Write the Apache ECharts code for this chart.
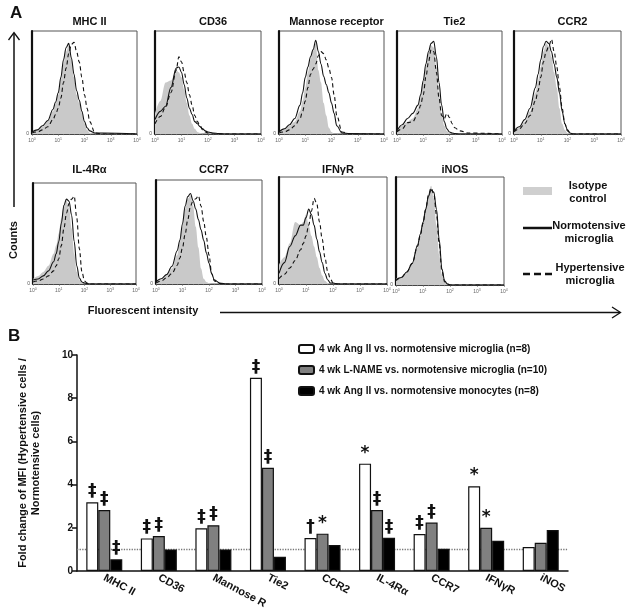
<!DOCTYPE html>
<html><head><meta charset="utf-8">
<script src="https://cdn.jsdelivr.net/npm/echarts@6/dist/echarts.min.js"></script>
<style>html,body{margin:0;padding:0;background:#fff}#c{width:631px;height:616px}</style>
</head><body><div id="c"></div><script>
// ---------- Panel A data (log10 fluorescence grid, % of max counts) ----------
var G = [0,0.2,0.4,0.6,0.8,0.9,1.0,1.1,1.2,1.3,1.4,1.5,1.6,1.7,1.8,1.9,2.0,2.1,2.2,2.4,2.7,4];
var panelNames = ['MHC II','CD36','Mannose receptor','Tie2','CCR2','IL-4R\u03b1','CCR7','IFN\u03b3R','iNOS'];
var xTickExponents = [0,1,2,3,4];

var mhc2Iso   = [2,4,7,12,22,29,38,52,68,80,86,72,55,38,30,20,10,4,1,0,0,0];
var mhc2Norm  = [2,4,8,13,24,31,40,55,72,84,88,74,58,42,33,22,12,6,3,1,1,0];
var mhc2Hyper = [1,2,4,7,14,19,25,35,50,64,78,87,89,80,70,55,38,25,12,1,0,0];

var cd36Iso   = [20,32,50,52,62,60,55,43,30,18,10,5,2,1,0,0,0,0,0,0,0,0];
var cd36Norm  = [14,22,27,45,64,65,60,48,35,25,19,12,10,7,5,3,2,1.5,1,0.5,0,0];
var cd36Hyper = [10,17,26,40,62,75,70,60,50,38,28,18,12,8,4,2,1,0,0,0,0,0];

var mrIso   = [2,4,8,12,22,32,45,60,72,82,88,62,50,30,18,6,2,0,0,0,0,0];
var mrNorm  = [2,5,9,15,28,40,55,65,75,82,91,80,68,56,48,40,30,20,8,1,0.5,0];
var mrHyper = [1,2,4,8,15,22,32,45,58,63,68,76,80,78,72,64,55,38,18,2,0,0];

var tie2Iso   = [3,8,12,15,25,35,50,65,78,86,84,65,40,20,8,3,1,0,0,0,0,0];
var tie2Norm  = [3,9,15,20,28,38,52,68,80,88,90,75,50,28,12,5,2,1,0.5,0,0,0];
var tie2Hyper = [2,5,11,12,20,28,38,55,70,82,80,60,35,18,15,20,16,10,6,3,1,0];

var ccr2Iso   = [3,6,12,22,40,52,65,80,88,85,75,60,45,25,10,4,1,0,0,0,0,0];
var ccr2Norm  = [3,7,14,25,45,58,72,85,90,88,80,68,55,40,22,10,4,1,0,0,0,0];
var ccr2Hyper = [2,5,10,18,32,42,55,70,80,85,92,80,65,45,25,10,3,1,0,0,0,0];

var il4Iso   = [5,8,12,18,30,38,50,65,78,83,75,55,30,12,4,1,0,0,0,0,0,0];
var il4Norm  = [4,5,8,13,22,30,42,60,78,84,82,68,42,18,6,2,1,0.5,0,0,0,0];
var il4Hyper = [2,3,5,8,13,18,25,38,55,70,80,84,87,65,35,12,3,1,0,0,0,0];

var ccr7Iso   = [2,4,8,15,28,40,55,72,82,85,75,55,35,15,5,2,1,0,0,0,0,0];
var ccr7Norm  = [2,5,9,17,32,42,58,75,84,87,80,72,62,52,42,30,20,10,4,1,0,0];
var ccr7Hyper = [1,3,6,10,18,25,35,48,62,75,80,82,85,75,60,45,28,10,3,0.5,0,0];

var ifngIso   = [18,25,38,58,55,58,65,55,45,35,25,15,8,3,1,0,0,0,0,0,0,0];
var ifngNorm  = [10,20,35,45,55,55,62,70,65,55,42,30,20,10,4,1,1,0.5,0,0,0,0];
var ifngHyper = [5,9,15,22,32,38,45,55,68,80,75,58,42,25,12,5,1,0,0,0,0,0];

var inosIso   = [6,7,12,20,35,45,58,72,85,92,80,55,28,10,3,1,0,0,0,0,0,0];
var inosNorm  = [5,7,12,20,37,47,58,70,82,88,86,70,42,15,4,1,0,0,0,0,0,0];
var inosHyper = [4,7,12,20,36,46,57,70,83,90,84,65,38,13,3,1,0,0,0,0,0,0];

// ---------- Panel B data ----------
var categories = ['MHC II','CD36','Mannose R','Tie2','CCR2','IL-4R\u03b1','CCR7','IFN\u03b3R','iNOS'];
var seriesNames = ['4 wk Ang II vs. normotensive microglia (n=8)',
                   '4 wk L-NAME vs. normotensive microglia (n=10)',
                   '4 wk Ang II vs. normotensive monocytes (n=8)'];
var angMicroglia   = [3.18,1.51,1.98,8.95,1.53,4.97,1.71,3.92,1.11];
var lnameMicroglia = [2.82,1.62,2.12,4.78,1.73,2.82,2.24,2.00,1.31];
var angMonocytes   = [0.54,1.00,1.00,0.66,1.20,1.54,1.03,1.40,1.90];
var sigAng   = ['\u2021','\u2021','\u2021','\u2021','\u2020','*','\u2021','*',''];
var sigLname = ['\u2021','\u2021','\u2021','\u2021','*','\u2021','\u2021','*',''];
var sigMono  = ['\u2021','','','','','\u2021','','',''];
var referenceLine = 1;
var yTicksB = [0,2,4,6,8,10];

var panelData = [
  [mhc2Iso,mhc2Norm,mhc2Hyper],[cd36Iso,cd36Norm,cd36Hyper],[mrIso,mrNorm,mrHyper],
  [tie2Iso,tie2Norm,tie2Hyper],[ccr2Iso,ccr2Norm,ccr2Hyper],[il4Iso,il4Norm,il4Hyper],
  [ccr7Iso,ccr7Norm,ccr7Hyper],[ifngIso,ifngNorm,ifngHyper],[inosIso,inosNorm,inosHyper]
];

// ---------- layout ----------
var FONT = '"Liberation Sans", Arial, sans-serif';
var boxes = [
  {l:32,t:31,w:105,h:103},{l:155,t:31,w:106,h:103},{l:279,t:31,w:105,h:103},
  {l:397,t:31,w:105,h:103},{l:514,t:31,w:107,h:103},
  {l:33,t:183,w:103,h:101},{l:156,t:180,w:106,h:104},{l:279,t:177,w:108,h:107},
  {l:396,t:177,w:108,h:108}
];
var titleY = [11,11,11,11,11,159,159,159,159];

var grids=[], xAxes=[], yAxes=[], series=[], titles=[];
boxes.forEach(function(b,i){
  grids.push({left:b.l, top:b.t, width:b.w, height:b.h, show:true, borderColor:'#555', borderWidth:1, backgroundColor:'#fff'});
  xAxes.push({gridIndex:i, type:'value', min:xTickExponents[0], max:xTickExponents[xTickExponents.length-1], interval:1,
    axisLine:{show:true, lineStyle:{color:'#444', width:1}},
    axisTick:{show:true, length:2, lineStyle:{color:'#666', width:0.6}},
    minorTick:{show:true, splitNumber:5, length:1.2, lineStyle:{color:'#888', width:0.5}},
    splitLine:{show:false},
    axisLabel:{margin:3, formatter:function(v){return '{b|10}{s|'+v+'}';},
      rich:{b:{fontSize:5, color:'#666', fontFamily:FONT}, s:{fontSize:3.5, color:'#666', fontFamily:FONT, verticalAlign:'bottom', padding:[0,0,3,0]}}}
  });
  yAxes.push({gridIndex:i, type:'value', min:0, max:100, interval:100,
    axisLine:{show:true, lineStyle:{color:'#111', width:2.2}},
    axisTick:{show:false}, splitLine:{show:false},
    axisLabel:{margin:3, fontSize:5, color:'#555', fontFamily:FONT, formatter:function(v){return v===0?'0':'';}}
  });
  var d = panelData[i];
  function pts(arr){ return G.map(function(g,k){return [g, arr[k]];}); }
  series.push({type:'line', xAxisIndex:i, yAxisIndex:i, data:pts(d[0]), smooth:0.35, smoothMonotone:'x', showSymbol:false, silent:true,
    lineStyle:{width:0}, areaStyle:{color:'#c9c9c9', opacity:1}, z:2});
  series.push({type:'line', xAxisIndex:i, yAxisIndex:i, data:pts(d[1]), smooth:0.35, smoothMonotone:'x', showSymbol:false, silent:true,
    lineStyle:{width:1.1, color:'#111'}, z:3});
  series.push({type:'line', xAxisIndex:i, yAxisIndex:i, data:pts(d[2]), smooth:0.35, smoothMonotone:'x', showSymbol:false, silent:true,
    lineStyle:{width:1.1, color:'#111', type:[4,3]}, z:4});
  titles.push({text:panelNames[i], left:b.l+b.w/2, top:titleY[i], textAlign:'center',
    textStyle:{fontSize:11, fontWeight:'bold', color:'#111', fontFamily:FONT}});
});

// Panel B grid
var gB = boxes.length;
grids.push({left:77, top:355, width:491, height:216});
xAxes.push({gridIndex:gB, type:'category', data:categories,
  axisLine:{lineStyle:{color:'#111', width:1.5}}, axisTick:{show:false},
  axisLabel:{rotate:-28, margin:6, fontSize:11, fontWeight:'bold', color:'#111', fontFamily:FONT, interval:0}
});
yAxes.push({gridIndex:gB, type:'value', min:yTicksB[0], max:yTicksB[yTicksB.length-1], interval:2,
  name:'Fold change of MFI (Hypertensive cells /\nNormotensive cells)', nameLocation:'middle', nameGap:35,
  nameTextStyle:{fontSize:11, fontWeight:'bold', color:'#111', fontFamily:FONT, lineHeight:13},
  axisLine:{show:true, lineStyle:{color:'#111', width:1.5}},
  axisTick:{show:true, length:5, lineStyle:{color:'#111', width:1.5}},
  splitLine:{show:false},
  axisLabel:{margin:4, fontSize:10, fontWeight:'bold', color:'#111', fontFamily:FONT}
});
var barVals = [angMicroglia, lnameMicroglia, angMonocytes];
var barSig = [sigAng, sigLname, sigMono];
var barColors = ['#ffffff','#808080','#000000'];
barVals.forEach(function(vals, s){
  var ser = {type:'bar', name:seriesNames[s], xAxisIndex:gB, yAxisIndex:gB, data:vals,
    barGap:'0%', barCategoryGap:'34%',
    itemStyle:{color:barColors[s], borderColor:'#111', borderWidth:1.2},
    label:{show:true, position:'top', distance:2, fontSize:17, fontWeight:'bold', color:'#111', fontFamily:'"DejaVu Sans", sans-serif',
      formatter:(function(sig){return function(p){return sig[p.dataIndex];};})(barSig[s])},
    z:5};
  if (s===0){
    ser.markLine = {silent:true, symbol:'none', label:{show:false},
      lineStyle:{type:'dotted', color:'#777', width:1.3}, data:[{yAxis:referenceLine}], z:1};
  }
  series.push(ser);
});

var chart = echarts.init(document.getElementById('c'), null, {renderer:'canvas'});
chart.setOption({
  animation:false,
  backgroundColor:'#fff',
  title:titles,
  grid:grids, xAxis:xAxes, yAxis:yAxes, series:series,
  legend:{data:seriesNames, orient:'vertical', left:293, top:339, itemWidth:15, itemHeight:8, itemGap:11,
    selectedMode:false, textStyle:{fontSize:10, fontWeight:'bold', color:'#111', fontFamily:FONT}},
  graphic:[
    {type:'text', left:10, top:5, style:{text:'A', font:'bold 17px '+FONT, fill:'#111'}},
    {type:'text', left:8, top:328, style:{text:'B', font:'bold 17px '+FONT, fill:'#111'}},
    // counts arrow
    {type:'line', shape:{x1:14, y1:33, x2:14, y2:207}, style:{stroke:'#111', lineWidth:1.5}},
    {type:'polyline', shape:{points:[[8.5,40],[14,32.5],[19.5,40]]}, style:{stroke:'#111', lineWidth:1.3, fill:null}},
    {type:'text', x:14, y:240, rotation:Math.PI/2, style:{text:'Counts', font:'bold 11px '+FONT, fill:'#111', align:'center', verticalAlign:'middle'}},
    // fluorescent arrow
    {type:'text', x:143, y:311, style:{text:'Fluorescent intensity', font:'bold 11px '+FONT, fill:'#111', align:'center', verticalAlign:'middle'}},
    {type:'line', shape:{x1:220, y1:312.5, x2:620, y2:312.5}, style:{stroke:'#111', lineWidth:1.3}},
    {type:'polyline', shape:{points:[[612,307],[620.5,312.5],[612,318]]}, style:{stroke:'#111', lineWidth:1.3, fill:null}},
    // legend A
    {type:'rect', shape:{x:523, y:187, width:29, height:8}, style:{fill:'#cfcfcf'}},
    {type:'text', x:588, y:192, style:{text:'Isotype\ncontrol', font:'bold 11px '+FONT, lineHeight:13, fill:'#111', align:'center', verticalAlign:'middle'}},
    {type:'line', shape:{x1:523, y1:228, x2:552, y2:228}, style:{stroke:'#111', lineWidth:2.5}},
    {type:'text', x:589, y:232, style:{text:'Normotensive\nmicroglia', font:'bold 11px '+FONT, lineHeight:13, fill:'#111', align:'center', verticalAlign:'middle'}},
    {type:'line', shape:{x1:523, y1:274, x2:552, y2:274}, style:{stroke:'#111', lineWidth:2.5, lineDash:[7,4]}},
    {type:'text', x:590, y:274, style:{text:'Hypertensive\nmicroglia', font:'bold 11px '+FONT, lineHeight:13, fill:'#111', align:'center', verticalAlign:'middle'}}
  ]
});
</script></body></html>
